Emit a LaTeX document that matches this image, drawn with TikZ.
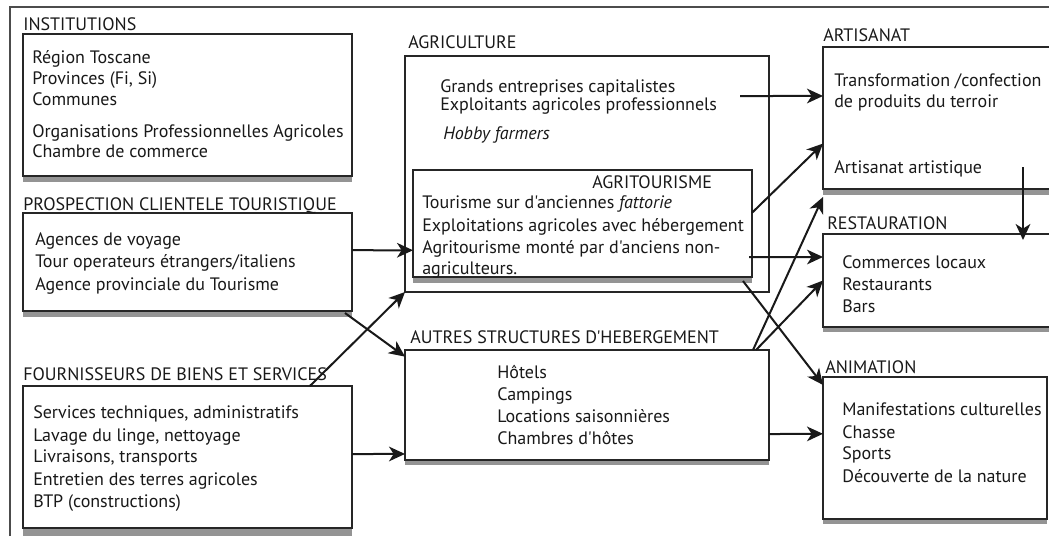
\documentclass[tikz,border=0pt]{standalone}
\usepackage{fontspec}
\setmainfont{PT Sans}[Ligatures=TeXOff]
\usetikzlibrary{calc,arrows.meta}
\newcommand\apos{'}
\newcommand\mkbox[6]{%
  \fill[shade] (#2,#5) rectangle (#4,#5+#6);
  \node[box, minimum width={(#4-#2)*0.75pt}, minimum height={(#5-#3)*0.75pt}] (#1) at (#2,#3) {};}
\begin{document}
\begin{tikzpicture}[x=0.75pt,y=-0.75pt,
  box/.style={draw=black!85, line width=0.9pt, fill=white, anchor=north west, inner sep=0pt, outer sep=0pt},
  shade/.style={fill=black!42},
  txt/.style={anchor=base west, inner sep=0pt, font=\fontsize{13.5}{16}\selectfont, text=black!90},
  arr/.style={line width=1.5pt, draw=black!90, -{Stealth[length=12pt,width=11pt,inset=3.5pt]}},
  frame/.style={draw=black!70, line width=1.2pt}]
\useasboundingbox (0,0) rectangle (1049,536);
\fill[white] (0,0) rectangle (1049,536);
% outer frame (cut off at right and bottom)
\draw[frame] (10,536) -- (10,7) -- (1049,7);

% boxes
\mkbox{inst}{23}{34}{352}{176}{6}
\mkbox{prosp}{23}{213}{352}{311}{6}
\mkbox{fourn}{23}{386}{352}{528}{8}
\mkbox{agri}{405}{56}{769}{292}{0}
\mkbox{agrit}{413}{170}{752}{277}{6}
\mkbox{autres}{405}{350}{769}{460}{5}
\mkbox{artis}{823}{47}{1056}{189}{6}
\mkbox{resta}{823}{234}{1056}{327}{5}
\mkbox{anim}{823}{377}{1047}{519}{5}

% labels
\node[txt] (linst) at (23,30) {INSTITUTIONS};
\node[txt] (lprosp) at (23,210) {PROSPECTION CLIENTELE TOURISTIQUE};
\node[txt] (lfourn) at (23,380) {FOURNISSEURS DE BIENS ET SERVICES};
\node[txt] (lagri) at (408,48) {AGRICULTURE};
\node[txt] (lagrit) at (592,188) {AGRITOURISME};
\node[txt] (lautres) at (410,343) {AUTRES STRUCTURES D\apos HEBERGEMENT};
\node[txt] (lartis) at (823,41) {ARTISANAT};
\node[txt] (lresta) at (827,229) {RESTAURATION};
\node[txt] (lanim) at (825,373) {ANIMATION};

% institutions
\node[txt] (inst1) at (32,63) {Région Toscane};
\node[txt] (inst2) at (32,84) {Provinces (Fi, Si)};
\node[txt] (inst3) at (32,105) {Communes};
\node[txt] (inst4) at (32,137) {Organisations Professionnelles Agricoles};
\node[txt] (inst5) at (32,157) {Chambre de commerce};
% prospection
\node[txt] (prosp1) at (35,245) {Agences de voyage};
\node[txt] (prosp2) at (35,267) {Tour operateurs étrangers/italiens};
\node[txt] (prosp3) at (35,290) {Agence provinciale du Tourisme};
% fournisseurs
\node[txt] (fourn1) at (33,418) {Services techniques, administratifs};
\node[txt] (fourn2) at (33,441) {Lavage du linge, nettoyage};
\node[txt] (fourn3) at (33,462) {Livraisons, transports};
\node[txt] (fourn4) at (33,485) {Entretien des terres agricoles};
\node[txt] (fourn5) at (33,507) {BTP (constructions)};
% agriculture
\node[txt] (agri1) at (440,92) {Grands entreprises capitalistes};
\node[txt] (agri2) at (440,110) {Exploitants agricoles professionnels};
\node[txt] (agri3) at (443,139) {\itshape Hobby farmers};
% agritourisme
\node[txt] (agrit1) at (422,208) {Tourisme sur d\apos anciennes \textit{fattorie}};
\node[txt] (agrit2) at (422,231) {Exploitations agricoles avec hébergement};
\node[txt] (agrit3) at (422,253) {Agritourisme monté par d\apos anciens non-};
\node[txt] (agrit4) at (422,274) {agriculteurs.};
% autres
\node[txt] (autres1) at (497,378) {Hôtels};
\node[txt] (autres2) at (497,400) {Campings};
\node[txt] (autres3) at (497,422) {Locations saisonnières};
\node[txt] (autres4) at (497,444) {Chambres d\apos hôtes};
% artisanat
\node[txt] (artis1) at (834,86) {Transformation /confection};
\node[txt] (artis2) at (834,107) {de produits du terroir};
\node[txt] (artis3) at (834,173) {Artisanat artistique};
% restauration
\node[txt] (resta1) at (842,268) {Commerces locaux};
\node[txt] (resta2) at (842,290) {Restaurants};
\node[txt] (resta3) at (842,312) {Bars};
% animation
\node[txt] (anim1) at (842,415) {Manifestations culturelles};
\node[txt] (anim2) at (842,438) {Chasse};
\node[txt] (anim3) at (842,459) {Sports};
\node[txt] (anim4) at (842,482) {Découverte de la nature};

% connectors
\draw[arr] ($(prosp.north east)!0.38!(prosp.south east)$) -- ($(agrit.north west)!0.75!(agrit.south west)$);
\draw[arr] ($(prosp.south east)+(-7,2)$) -- ($(autres.north west)!0.06!(autres.south west)$);
\draw[arr] ($(fourn.north west)!0.872!(fourn.north east)$) -- (agri.south west);
\draw[arr] ($(fourn.north east)!0.479!(fourn.south east)$) -- ($(autres.north west)!0.945!(autres.south west)$);
\draw[arr] ($(agri.north east)+(-29,40)$) -- ($(artis.north west)!0.345!(artis.south west)$);
\draw[arr] ($(agrit.north east)!0.40!(agrit.south east)$) -- ($(artis.north west)!0.68!(artis.south west)$);
\draw[arr] ($(agrit.north east)!0.815!(agrit.south east)+(-3,0)$) -- ($(resta.north west)!0.247!(resta.south west)$);
\draw[arr] ($(agrit.south east)+(-9,4)$) -- ($(anim.north west)!0.056!(anim.south west)$);
\draw[arr] ($(autres.north east)+(-16,0)$) -- ($(artis.south west)+(0,8)$);
\draw[arr] ($(autres.north east)+(-13,0)$) -- (resta.west);
\draw[arr] ($(autres.north east)!0.764!(autres.south east)$) -- ($(anim.north west)!0.40!(anim.south west)$);
\draw[arr] ($(artis.south west)+(200,-22)$) -- ($(resta.north west)+(200,6)$);
\end{tikzpicture}
\end{document}
